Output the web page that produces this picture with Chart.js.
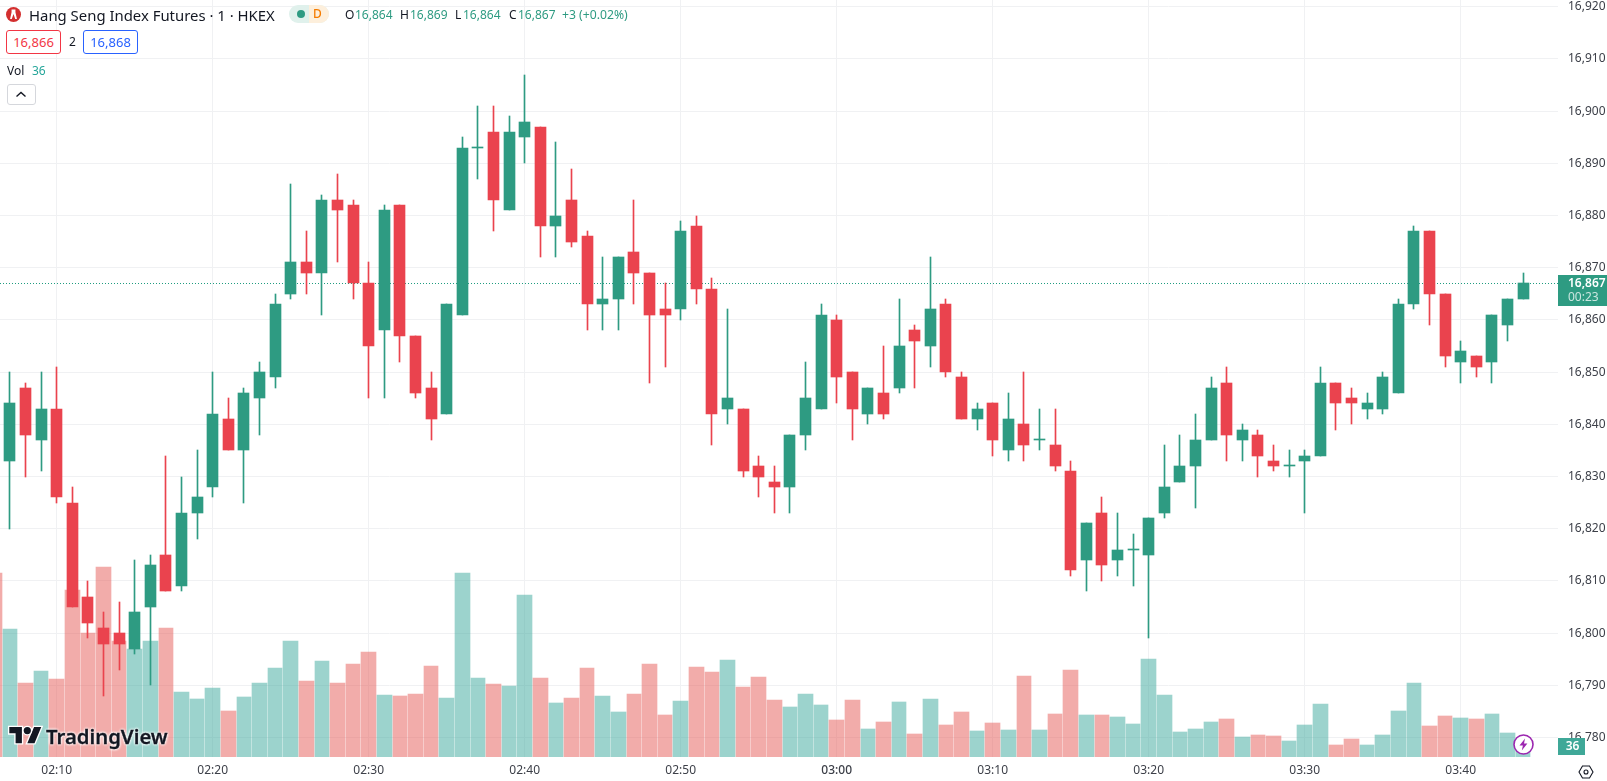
<!DOCTYPE html>
<html><head><meta charset="utf-8">
<style>
html,body{margin:0;padding:0;background:#fff;overflow:hidden}
#wrap{position:relative;width:1607px;height:781px;font-family:"Noto Sans",sans-serif;color:#131722}
#wrap canvas{position:absolute;left:0;top:0}
.t{position:absolute;white-space:nowrap;line-height:18px;height:18px}
.box{position:absolute;box-sizing:border-box;border-radius:3px;background:#fff;text-align:center;font-size:13px}
svg{position:absolute;overflow:visible}
</style></head><body>
<div id="wrap">
<canvas id="c" width="1607" height="781"></canvas>

<svg style="left:6px;top:6.5px" width="15" height="15" viewBox="0 0 14 14"><circle cx="7" cy="7" r="7" fill="#d32f2f"/><path d="M5.2 2.4h3.6v2.4l1.4 6.4H8.6L7 6.6 5.4 11.2H3.8l1.4-6.4z" fill="#fff"/></svg>
<div class="t" style="left:29px;top:5.5px;font-size:14.9px;">Hang Seng Index Futures · 1 · HKEX</div>
<div style="position:absolute;left:289px;top:5px;width:40px;height:18px;border-radius:9px;overflow:hidden;background:#e0f1ec"><div style="position:absolute;left:20px;top:0;width:20px;height:18px;background:#fdefdc"></div><div style="position:absolute;left:8px;top:5px;width:8px;height:8px;border-radius:4px;background:#2e9b82"></div></div>
<div class="t" style="left:313px;top:5px;font-size:12px;color:#f57c00;font-weight:500">D</div>
<div class="t" style="left:345px;top:6px;font-size:12px">O</div><div class="t" style="left:355px;top:6px;font-size:12px;color:#2e9b82">16,864</div>
<div class="t" style="left:400px;top:6px;font-size:12px">H</div><div class="t" style="left:410px;top:6px;font-size:12px;color:#2e9b82">16,869</div>
<div class="t" style="left:455px;top:6px;font-size:12px">L</div><div class="t" style="left:463px;top:6px;font-size:12px;color:#2e9b82">16,864</div>
<div class="t" style="left:509px;top:6px;font-size:12px">C</div><div class="t" style="left:518px;top:6px;font-size:12px;color:#2e9b82">16,867</div>
<div class="t" style="left:562px;top:6px;font-size:12.2px;color:#2e9b82">+3 (+0.02%)</div>

<div class="box" style="left:6px;top:30px;width:55px;height:24px;border:1px solid #f23645;color:#f23645;line-height:22px">16,866</div>
<div class="t" style="left:69px;top:33px;font-size:12px">2</div>
<div class="box" style="left:83px;top:30px;width:55px;height:24px;border:1px solid #2962ff;color:#2962ff;line-height:22px">16,868</div>

<div class="t" style="left:7px;top:62px;font-size:12px">Vol</div>
<div class="t" style="left:32px;top:62px;font-size:12px;color:#26a69a">36</div>
<div class="box" style="left:7px;top:84px;width:29px;height:21px;border:1px solid #d5d7dc"></div>
<svg style="left:15px;top:91px" width="12" height="7" viewBox="0 0 12 7"><path d="M1.5 5.5L6 1.5l4.5 4" fill="none" stroke="#131722" stroke-width="1.4"/></svg>

<svg style="left:9px;top:727px" width="33" height="18" viewBox="0 0 36 20"><g stroke="#fff" stroke-width="3" paint-order="stroke" fill="#131722"><path d="M14 18H7V7H0V0h14v18zM28 18h-8L27.5 0h8L28 18z"/><circle cx="20" cy="4" r="4"/></g></svg>
<div class="t" style="left:46px;top:724px;height:24px;line-height:24px;font-size:20.3px;font-weight:600;color:#131722;-webkit-text-stroke:0.3px #131722;text-shadow:0 0 3px #fff,0 0 3px #fff,0 0 3px #fff">TradingView</div>

<svg style="left:1513px;top:734px" width="21" height="21" viewBox="0 0 21 21"><circle cx="10.5" cy="10.5" r="9.5" fill="#fff" stroke="#9c27b0" stroke-width="1.6"/><path d="M12 4.5L6.5 11.5h3.4L8.8 16.5l5.6-7h-3.4z" fill="#9c27b0"/></svg>
<svg style="left:1578px;top:764px" width="16" height="16" viewBox="0 0 16 16"><path d="M1 8l3.5-6h7L15 8l-3.5 6h-7z" fill="none" stroke="#131722" stroke-width="1.1"/><circle cx="8" cy="8" r="2" fill="none" stroke="#131722" stroke-width="1.1"/></svg>
</div>
<script src="https://cdn.jsdelivr.net/npm/chart.js@4/dist/chart.umd.min.js"></script>
<script>
// Minutes shown; 02:06 is only visible through its cut-off volume bar.
const times = ['02:06','02:07','02:08','02:09','02:10','02:11','02:12','02:13','02:14','02:15','02:16','02:17','02:18','02:19','02:20','02:21','02:22','02:23','02:24','02:25','02:26','02:27','02:28','02:29','02:30','02:31','02:32','02:33','02:34','02:35','02:36','02:37','02:38','02:39','02:40','02:41','02:42','02:43','02:44','02:45','02:46','02:47','02:48','02:49','02:50','02:51','02:52','02:53','02:54','02:55','02:56','02:57','02:58','02:59','03:00','03:01','03:02','03:03','03:04','03:05','03:06','03:07','03:08','03:09','03:10','03:11','03:12','03:13','03:14','03:15','03:16','03:17','03:18','03:19','03:20','03:21','03:22','03:23','03:24','03:25','03:26','03:27','03:28','03:29','03:30','03:31','03:32','03:33','03:34','03:35','03:36','03:37','03:38','03:39','03:40','03:41','03:42','03:43','03:44'];
const opens = [null,16833,16847,16837,16843,16825,16807,16801,16800,16797,16805,16815,16809,16823,16828,16841,16835,16845,16849,16865,16871,16869,16883,16882,16867,16858,16882,16857,16847,16842,16861,16893,16896,16881,16895,16897,16878,16883,16876,16863,16864,16873,16869,16862,16862,16878,16866,16843,16843,16832,16829,16828,16838,16843,16860,16850,16842,16846,16847,16858,16855,16863,16849,16841,16844,16835,16840,16837,16836,16831,16814,16823,16814,16816,16815,16823,16829,16832,16837,16848,16837,16838,16833,16832,16833,16834,16848,16845,16843,16843,16846,16863,16877,16865,16852,16853,16852,16859,16864];
const highs = [null,16850,16848,16850,16851,16828,16810,16804,16806,16814,16815,16834,16830,16835,16850,16845,16847,16852,16865,16886,16877,16884,16888,16883,16871,16882,16882,16857,16850,16863,16895,16901,16901,16899,16907,16897,16894,16889,16877,16872,16872,16883,16869,16867,16879,16880,16868,16862,16843,16834,16832,16838,16852,16863,16861,16850,16847,16855,16864,16859,16872,16864,16850,16844,16844,16846,16850,16843,16843,16833,16821,16826,16823,16819,16822,16836,16838,16842,16849,16851,16840,16839,16836,16835,16835,16851,16848,16847,16846,16850,16864,16878,16877,16865,16856,16853,16861,16864,16869];
const lows = [null,16820,16830,16831,16825,16805,16799,16788,16793,16796,16790,16808,16808,16818,16826,16835,16825,16838,16847,16864,16865,16861,16871,16864,16845,16845,16852,16845,16837,16842,16861,16887,16877,16881,16890,16872,16872,16874,16858,16858,16858,16863,16848,16851,16860,16863,16836,16840,16830,16826,16823,16823,16835,16843,16844,16837,16840,16841,16846,16847,16851,16849,16841,16839,16834,16833,16833,16835,16831,16811,16808,16810,16811,16809,16799,16822,16829,16824,16837,16833,16833,16830,16831,16830,16823,16834,16839,16840,16841,16842,16846,16862,16859,16851,16848,16849,16848,16856,16864];
const closes = [null,16844,16838,16843,16826,16805,16802,16798,16798,16804,16813,16808,16823,16826,16842,16835,16846,16850,16863,16871,16869,16883,16881,16867,16855,16881,16857,16846,16841,16863,16893,16893,16883,16896,16898,16878,16880,16875,16863,16864,16872,16869,16861,16861,16877,16866,16842,16845,16831,16830,16828,16838,16845,16861,16849,16843,16847,16842,16855,16856,16862,16850,16841,16843,16837,16841,16836,16837,16832,16812,16821,16813,16816,16816,16822,16828,16832,16837,16847,16838,16839,16834,16832,16832,16834,16848,16844,16844,16844,16849,16863,16877,16865,16853,16854,16851,16861,16864,16867];
const volumes = [656,456,263,306,277,595,442,677,413,385,413,460,231,206,245,163,213,263,317,413,270,342,263,331,374,220,217,224,324,210,656,281,260,252,577,281,192,210,317,217,160,224,331,149,199,320,302,345,249,285,202,177,224,185,131,202,99,124,195,81,206,113,160,92,120,95,288,95,152,310,149,149,142,117,349,220,88,99,124,135,70,77,74,56,113,188,42,63,42,77,163,263,110,145,138,135,152,85,36];
const priceTicks = [16780,16790,16800,16810,16820,16830,16840,16850,16860,16870,16880,16890,16900,16910,16920];
const timeTicks = ['02:10','02:20','02:30','02:40','02:50','03:00','03:10','03:20','03:30','03:40'];
const lastPrice = 16867, countdown = '00:23', lastVolume = 36;

const toMin = s => { const [h,m] = s.split(':').map(Number); return h*60+m; };
const xs = times.map(toMin);
const UP='#2e9b82', DOWN='#ea434e', VUP='rgba(57,168,155,.5)', VDOWN='rgba(230,90,85,.5)';
const isDown = i => opens[i]===null || closes[i]<opens[i];
const FONT='"Noto Sans",sans-serif', TXT='#3d4049';
const X0=130-56.7/15.6, X1=130+(1558-56.7)/15.6;

const snap = {
  id:'snap',
  beforeDatasetsDraw(chart){
    chart.data.datasets.forEach((ds,di)=>{
      const meta=chart.getDatasetMeta(di);
      if(ds.kind==='last'){ meta.data.forEach(p=>{p.y=Math.floor(p.y)+.5;}); return; }
      meta.data.forEach(el=>{
        if(el.skip) return;
        let top=Math.round(Math.min(el.y,el.base)), bot=Math.round(Math.max(el.y,el.base));
        if(bot-top<1) bot=top+1;
        el.y=top; el.base=bot; el.height=bot-top;
        if(ds.kind==='vol'){
          const l=Math.round(el.x-7.3), r=Math.round(el.x+7.3);
          el.x=(l+r)/2; el.width=r-l;
        } else {
          el.x=Math.floor(el.x)+.5;
        }
      });
    });
  },
  afterDraw(chart){
    const c=chart.ctx, y=chart.scales.y, v=chart.scales.v, ax=chart.chartArea.right;
    const yy=Math.floor(y.getPixelForValue(lastPrice));
    c.save();
    c.fillStyle=UP; c.fillRect(ax,yy-8,49,31);
    c.textBaseline='middle'; c.textAlign='left';
    c.fillStyle='#fff'; c.font='600 12px '+FONT; c.fillText('16,867',ax+10,yy+.5);
    c.fillStyle='rgba(255,255,255,.75)'; c.font='12px '+FONT; c.fillText(countdown,ax+10,yy+15);
    const vy=Math.round(v.getPixelForValue(lastVolume));
    c.fillStyle='#3fa898'; c.fillRect(ax,vy-9,27,17);
    c.fillStyle='#fff'; c.font='600 12px '+FONT; c.textAlign='center'; c.fillText(String(lastVolume),ax+14.5,vy);
    c.restore();
  }
};

new Chart(document.getElementById('c'),{
  type:'bar',
  plugins:[snap],
  data:{datasets:[
    {kind:'body',label:'Body',order:1,xAxisID:'x',yAxisID:'y',grouped:false,barThickness:11,minBarLength:1,
     data:xs.map((x,i)=>({x,y:opens[i]===null?null:[opens[i],closes[i]]})),
     backgroundColor:xs.map((_,i)=>isDown(i)?DOWN:UP)},
    {kind:'wick',label:'Wick',order:2,xAxisID:'x',yAxisID:'y',grouped:false,barThickness:1,
     data:xs.map((x,i)=>({x,y:lows[i]===null?null:[lows[i],highs[i]]})),
     backgroundColor:xs.map((_,i)=>isDown(i)?DOWN:UP)},
    {kind:'last',type:'line',label:'Last',order:3,xAxisID:'x',yAxisID:'y',
     data:[{x:X0,y:lastPrice},{x:X1,y:lastPrice}],borderColor:'#1f9c80',borderWidth:1,borderDash:[1,2],pointRadius:0,fill:false},
    {kind:'vol',label:'Vol',order:4,xAxisID:'x',yAxisID:'v',grouped:false,barThickness:14.6,
     data:xs.map((x,i)=>({x,y:volumes[i]})),
     backgroundColor:xs.map((_,i)=>isDown(i)?VDOWN:VUP)}
  ]},
  options:{
    responsive:false,animation:false,devicePixelRatio:1,
    layout:{padding:0},
    plugins:{legend:{display:false},tooltip:{enabled:false},title:{display:false}},
    scales:{
      x:{type:'linear',min:X0,max:X1,offset:false,
         grid:{offset:false,color:'#f0f1f3',lineWidth:1,drawTicks:false},border:{display:false},
         afterBuildTicks:s=>{s.ticks=timeTicks.map(t=>({value:toMin(t)}));},
         afterFit:s=>{s.height=24;s.paddingLeft=0;s.paddingRight=0;},
         ticks:{autoSkip:false,maxRotation:0,padding:6,color:TXT,
           font:ctx=>({family:FONT,size:12,weight:ctx.tick&&ctx.tick.value===180?'500':'400'}),
           callback:v=>timeTicks.find(t=>toMin(t)===v)}},
      y:{type:'linear',position:'right',min:16850-384.9/5.22,max:16850+372.1/5.22,
         grid:{color:'#f0f1f3',lineWidth:1,drawTicks:false},border:{display:false},
         afterBuildTicks:s=>{s.ticks=priceTicks.map(v=>({value:v}));},
         afterFit:s=>{s.width=49;s.paddingTop=0;s.paddingBottom=0;},
         ticks:{autoSkip:false,padding:10,color:TXT,font:{family:FONT,size:12},
           callback:v=>Number(v).toLocaleString('en-US')}},
      v:{type:'linear',display:false,min:0,max:757/0.28,grid:{display:false},
         afterFit:s=>{s.paddingTop=0;s.paddingBottom=0;}}
    }
  }
});
</script>
</body></html>
